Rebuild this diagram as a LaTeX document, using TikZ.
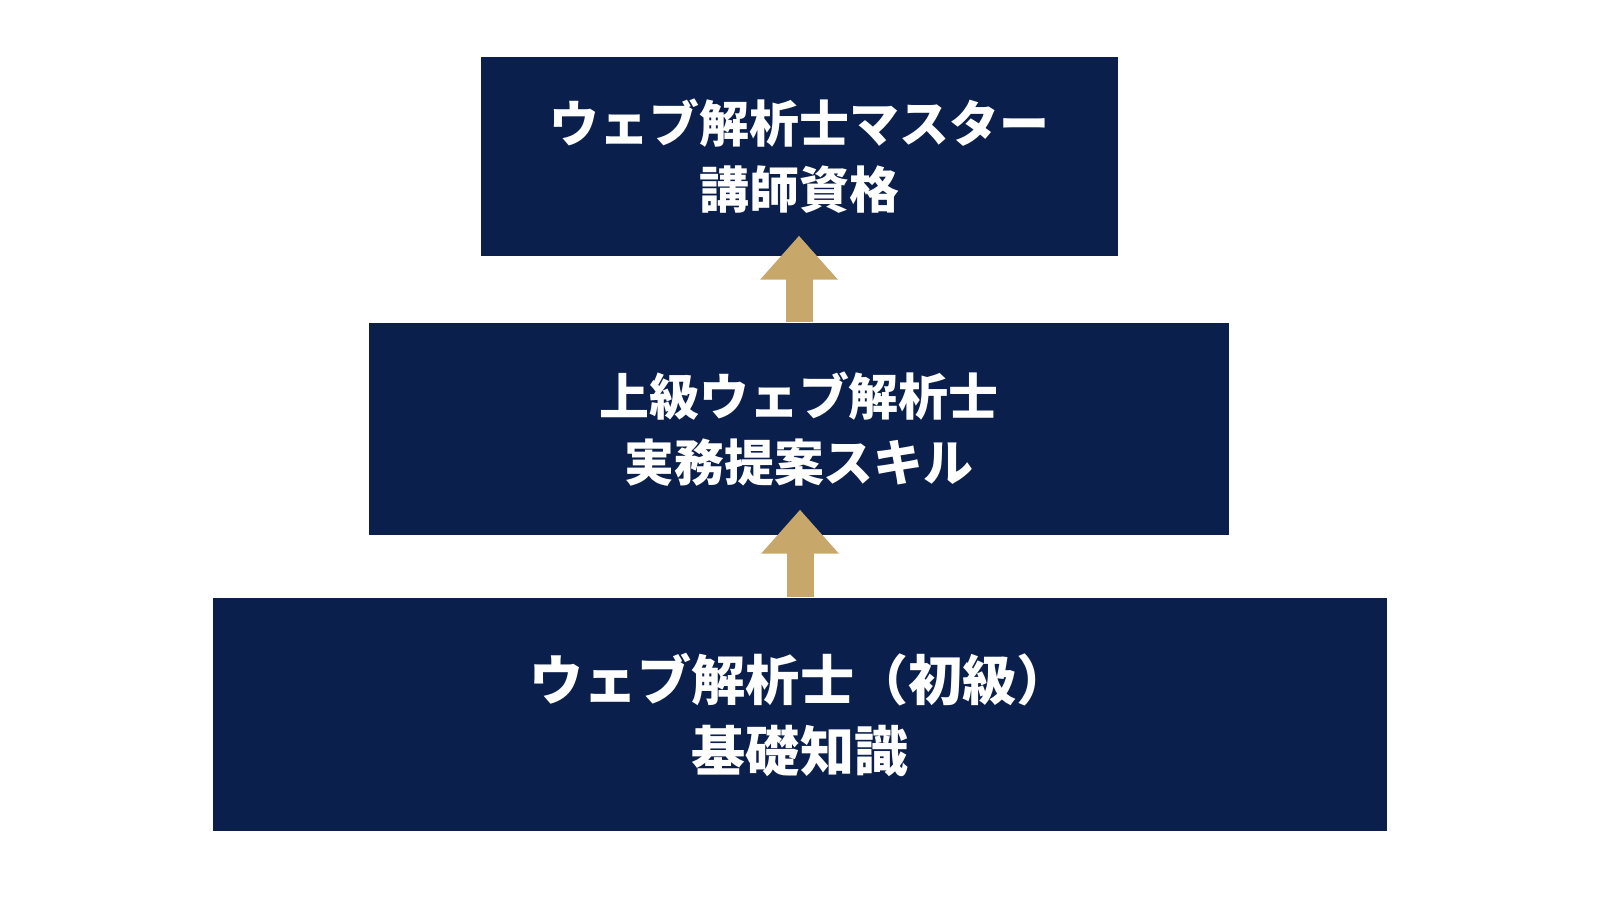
\documentclass[tikz,border=0pt]{standalone}
\usepackage{fontspec}
\setmainfont{Noto Sans CJK JP}
\usetikzlibrary{arrows.meta}
\definecolor{navy}{RGB}{10,31,75}
\definecolor{gold}{RGB}{200,168,106}
\tikzset{
	tierbox/.style={fill=navy, text=white, align=center, inner sep=0pt},
	smalltext/.style={font=\fontsize{14.2pt}{18.8pt}\selectfont\bfseries},
	bigtext/.style={font=\fontsize{15.4pt}{20.2pt}\selectfont\bfseries},
	uparrow/.style={gold, line width=0.27cm, -{Triangle[width=0.75cm,length=0.44cm]}}
}
\begin{document}
\begin{tikzpicture}
	\useasboundingbox (0,0) rectangle (16,9);
	% boxes
	\node [tierbox, smalltext, minimum width=6.37cm, minimum height=1.99cm] (master) at (7.995,7.435) {ウェブ解析士マスター\\講師資格};
	\node [tierbox, smalltext, minimum width=8.60cm, minimum height=2.12cm] (senior) at (7.99,4.71) {上級ウェブ解析士\\実務提案スキル};
	\node [tierbox, bigtext, minimum width=11.74cm, minimum height=2.33cm] (basic) at (8.00,1.855) {ウェブ解析士（初級）\\基礎知識};

	% arrows
	\draw [uparrow] (senior.north) -- ([yshift=0.21cm]senior.north |- master.south);
	\draw [uparrow] (basic.north) -- ([yshift=0.26cm]basic.north |- senior.south);
\end{tikzpicture}
\end{document}
